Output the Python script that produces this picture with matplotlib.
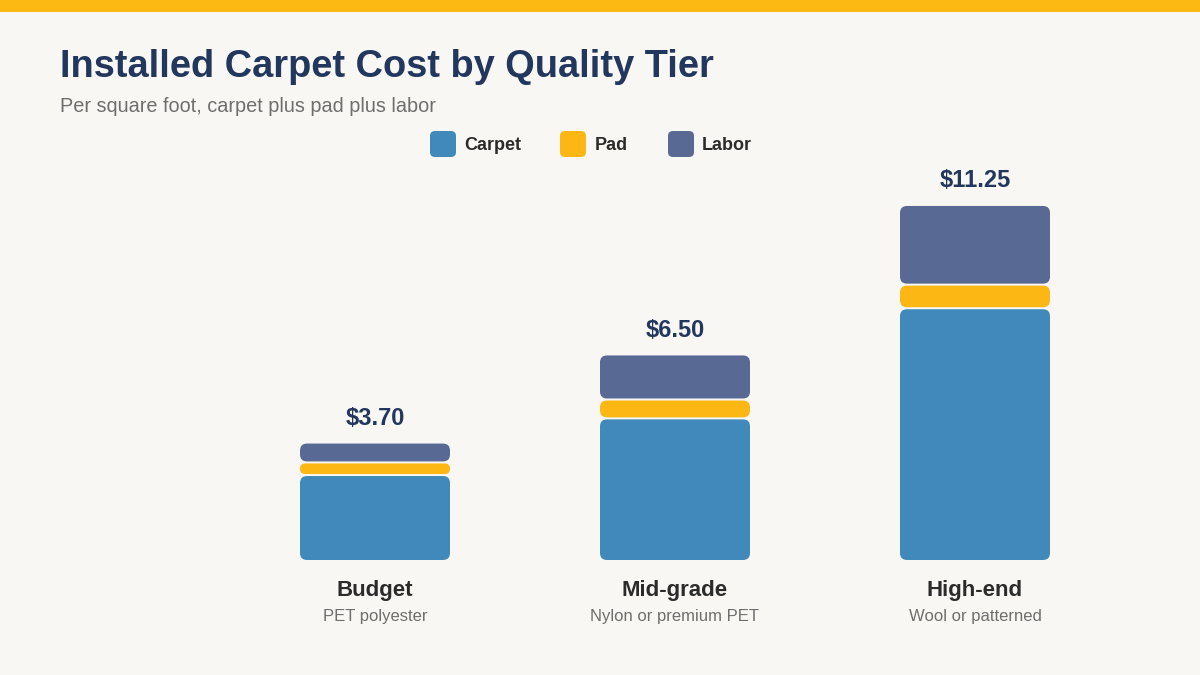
import matplotlib
matplotlib.use("Agg")
import matplotlib.pyplot as plt
from matplotlib.patches import FancyBboxPatch, Rectangle
import numpy as np

plt.rcParams['font.family'] = ['Liberation Sans', 'DejaVu Sans']

categories = ["Budget", "Mid-grade", "High-end"]
sublabels = ["PET polyester", "Nylon or premium PET", "Wool or patterned"]
series_names = ["Carpet", "Pad", "Labor"]
carpet = [2.70, 4.50, 8.00]
pad = [0.40, 0.60, 0.75]
labor = [0.60, 1.40, 2.50]
totals = ["$3.70", "$6.50", "$11.25"]

colors = ["#4189BA", "#FDB714", "#586A94"]
BG = "#F8F7F3"
NAVY = "#22375E"
DARK = "#2B2B2B"
GRAY = "#6E6E6E"

W, H = 1200, 675
fig = plt.figure(figsize=(12, 6.75), dpi=100, facecolor=BG)

# top accent bar
fig.patches.append(Rectangle((0, 1 - 12 / H), 1, 12 / H, transform=fig.transFigure,
                             facecolor="#FDB913", edgecolor="none"))

fig.text(60 / W, 1 - 77 / H, "Installed Carpet Cost by Quality Tier", fontsize=27.4,
         fontweight="bold", color=NAVY, ha="left", va="baseline")
fig.text(60 / W, 1 - 112 / H, "Per square foot, carpet plus pad plus labor", fontsize=14.3,
         color=GRAY, ha="left", va="baseline")

# axes geometry
px_per_unit = 31.47
ymax = 12.5
ax_left, ax_right = 225, 1125
base_y = 560
ax = fig.add_axes([ax_left / W, (H - base_y) / H, (ax_right - ax_left) / W,
                   ymax * px_per_unit / H])
ax.set_xlim(-0.5, 2.5)
ax.set_ylim(0, ymax)
ax.axis("off")
ax.patch.set_alpha(0)

x_per_px = 3.0 / (ax_right - ax_left)
y_per_px = 1.0 / px_per_unit
aspect = y_per_px / x_per_px
radius_px = 7
gap = 1.0 * y_per_px
bar_w = 0.5

x = np.arange(len(categories))
stacks = [carpet, pad, labor]
for i in range(len(categories)):
    bottom = 0.0
    for s, vals in enumerate(stacks):
        v = vals[i]
        y0 = bottom + (gap if s > 0 else 0)
        y1 = bottom + v - (gap if s < len(stacks) - 1 else 0)
        h = y1 - y0
        r = min(radius_px * x_per_px, (h / aspect) / 2)
        p = FancyBboxPatch((x[i] - bar_w / 2, y0), bar_w, h,
                           boxstyle=f"round,pad=0,rounding_size={r}",
                           mutation_aspect=aspect, facecolor=colors[s],
                           edgecolor="none", clip_on=False)
        ax.add_patch(p)
        bottom += v
    ax.annotate(totals[i], (x[i], bottom), xytext=(0, 9.7), textcoords="offset points",
                ha="center", va="bottom", fontsize=17, fontweight="bold", color=NAVY)
    ax.annotate(categories[i], (x[i], 0), xytext=(0, -36 * 0.72), textcoords="offset points",
                ha="center", va="baseline", fontsize=16, fontweight="bold", color=DARK)
    ax.annotate(sublabels[i], (x[i], 0), xytext=(0, -61 * 0.72), textcoords="offset points",
                ha="center", va="baseline", fontsize=12, color=GRAY)

# legend
leg_items = [(430, 464), (560, 595), (668, 702)]
leg_cy = 144
for (sx, tx), name, c in zip(leg_items, series_names, colors):
    fig.patches.append(FancyBboxPatch((sx / W, (H - leg_cy - 13) / H), 26 / W, 26 / H,
                                      boxstyle="round,pad=0,rounding_size=%f" % (5 / W),
                                      mutation_aspect=W / H,
                                      transform=fig.transFigure, facecolor=c,
                                      edgecolor="none"))
    fig.text(tx / W, (H - leg_cy - 1) / H, name, fontsize=13, fontweight="bold",
             color=DARK, ha="left", va="center")

fig.savefig("out.png", dpi=100, facecolor=BG)
